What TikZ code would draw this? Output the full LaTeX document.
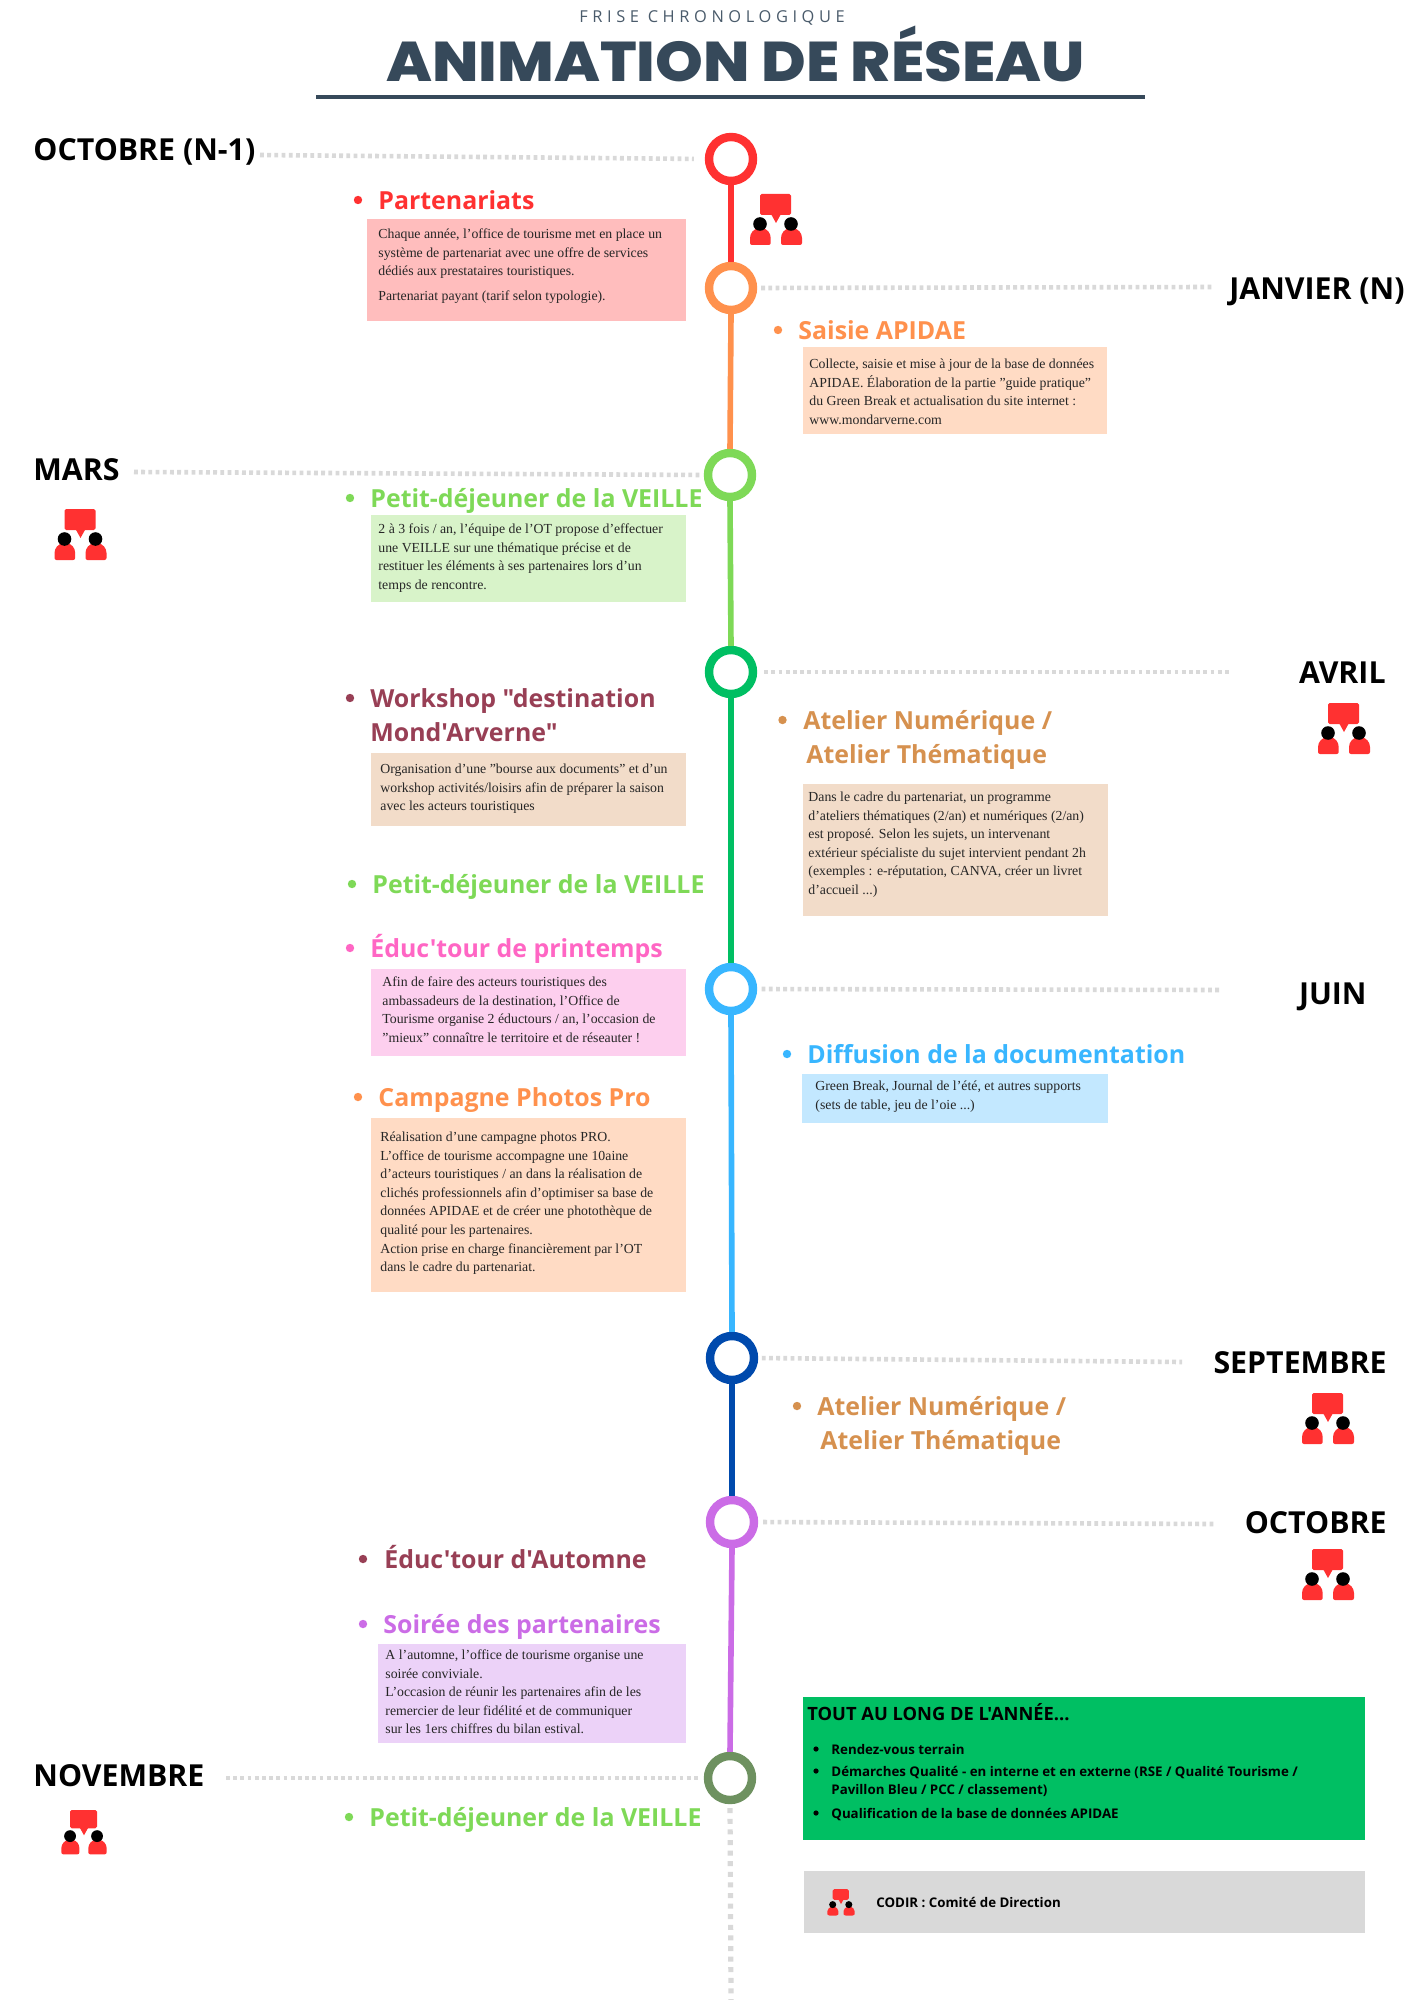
\documentclass[tikz,border=0pt]{standalone}
\usepackage{fontspec}
\setmainfont{Liberation Serif}
\newfontfamily\osans{Open Sans}
\newfontfamily\ossp[LetterSpace=28]{Open Sans}
\newfontfamily\popp[FakeStretch=1.085]{Poppins ExtraBold}
\definecolor{slate}{HTML}{36495A}
\definecolor{cred}{HTML}{FF3131}
\definecolor{corange}{HTML}{FF914D}
\definecolor{cgreen}{HTML}{7ED957}
\definecolor{cdgreen}{HTML}{00BF63}
\definecolor{cblue}{HTML}{38B6FF}
\definecolor{cnavy}{HTML}{004AAD}
\definecolor{cpurple}{HTML}{CB6CE6}
\definecolor{cmoss}{HTML}{6E9160}
\definecolor{cpink}{HTML}{FF66C4}
\definecolor{cwine}{HTML}{983F55}
\definecolor{cochre}{HTML}{D6914F}
\definecolor{bred}{HTML}{FFBDBD}
\definecolor{borange}{HTML}{FFDBC4}
\definecolor{bgreen}{HTML}{D8F3C9}
\definecolor{btan}{HTML}{F2DCC9}
\definecolor{bpink}{HTML}{FDCFEE}
\definecolor{bblue}{HTML}{C3E8FF}
\definecolor{bpurple}{HTML}{ECD2F8}
\definecolor{bgray}{HTML}{D9D9D9}
\tikzset{
  ring/.style={circle,draw=#1,line width=4.2pt,inner sep=0pt,minimum size=22pt,fill=white},
  seg/.style={draw=#1,line width=2.8pt},
  dotline/.style={draw=bgray,line width=2.3pt,dash pattern=on 1.9pt off 1.7pt},
  dotvert/.style={draw=bgray,line width=2.6pt,dash pattern=on 2.5pt off 2.8pt},
  monthlabel/.style={inner sep=0pt,font=\osans\bfseries\fontsize{15.15}{18}\selectfont,text=black},
  headlabel/.style={anchor=north west,inner sep=0pt,align=left,text=#1,font=\osans\bfseries\fontsize{12.45}{17.2}\selectfont},
  bodylabel/.style={anchor=north west,inner sep=0pt,align=left,text=black!85,font=\fontsize{6.9}{9.3}\selectfont},
  dotmark/.style={circle,fill=#1,inner sep=0pt,minimum size=4.2pt},
  panel/.style={anchor=north west,inner sep=0pt,outer sep=0pt,fill=#1},
  listlabel/.style={anchor=north west,inner sep=0pt,align=left,text=black,font=\osans\bfseries\fontsize{6.65}{9}\selectfont},
}
\newcommand\meetingicon[3]{%
  \begin{scope}[shift={(#1,#2)},scale=#3]
    \fill[cred,rounded corners=0.8pt] (-16,0) rectangle (15,21);
    \fill[cred] (-5,20) -- (0,29) -- (5,20) -- cycle;
    \fill[cred,rounded corners=1pt] (-26,51) -- (-26,46) .. controls (-26,39) and (-22,34.5) .. (-15.5,34.5) .. controls (-9,34.5) and (-5.3,39) .. (-5.3,46) -- (-5.3,51) -- cycle;
    \fill[cred,rounded corners=1pt] (5,51) -- (5,46) .. controls (5,39) and (9,34.5) .. (15.5,34.5) .. controls (22,34.5) and (26,39) .. (26,46) -- (26,51) -- cycle;
    \fill[black] (-16,30) circle[radius=6.8];
    \fill[black] (15,30) circle[radius=6.8];
  \end{scope}}
\newcommand\panelbox[6]{\node[panel=#2,minimum width={(#5-#3)*0.5pt},minimum height={(#6-#4)*0.5pt}] (#1) at (#3,#4) {};}
\newcommand\headline[6]{%
  \node[dotmark=#5] (#1d) at (#2,#4) {};
  \node[headlabel=#5] (#1) at (#3,#4-15) {\strut #6};}
\newcommand\bodytext[4]{\node[bodylabel] (#1) at (#2,#3-9) {\strut #4};}
\begin{document}
\begin{tikzpicture}[x=0.5pt,y=-0.5pt]
\path[use as bounding box,fill=white] (0,0) rectangle (1414,2000);
% title
\node[inner sep=0pt,text=slate!90,font=\ossp\fontsize{8.2}{10}\selectfont] (subtitle) at (712,18) {FRISE CHRONOLOGIQUE};
\node[inner sep=0pt,anchor=base,text=slate,font=\popp\fontsize{28}{32}\selectfont] (title) at (735.5,82) {ANIMATION DE RÉSEAU};
\coordinate (ruleA) at (316,97);
\coordinate (ruleB) at (1145,97);
\draw[slate,line width=2pt] (ruleA) -- (ruleB);
% rings
\node[ring=cred] (c1) at (731,159) {};
\node[ring=corange] (c2) at (731,288) {};
\node[ring=cgreen] (c3) at (730,475) {};
\node[ring=cdgreen] (c4) at (731,672) {};
\node[ring=cblue] (c5) at (731,989) {};
\node[ring=cnavy] (c6) at (732,1358) {};
\node[ring=cpurple] (c7) at (732,1522) {};
\node[ring=cmoss] (c8) at (730,1778) {};
% segments
\draw[seg=cred] (c1.south) -- (c2.north);
\draw[seg=corange] (c2.south) -- (c3.north);
\draw[seg=cgreen] (c3.south) -- (c4.north);
\draw[seg=cdgreen] (c4.south) -- (c5.north);
\draw[seg=cblue] (c5.south) -- (c6.north);
\draw[seg=cnavy] (c6.south) -- (c7.north);
\draw[seg=cpurple] (c7.south) -- (c8.north);
\coordinate (tail) at (731,2000);
\draw[dotvert,shorten <=2pt] (c8.south) -- (tail);
% months
\node[monthlabel,anchor=base west] (m1) at (33,161) {OCTOBRE (N-1)};
\node[monthlabel,anchor=base east] (m2) at (1405,299.5) {JANVIER (N)};
\node[monthlabel,anchor=base west] (m3) at (33,480.5) {MARS};
\node[monthlabel,anchor=base east] (m4) at (1386,683) {AVRIL};
\node[monthlabel,anchor=base east] (m5) at (1367,1004) {JUIN};
\node[monthlabel,anchor=base east] (m6) at (1387,1373) {SEPTEMBRE};
\node[monthlabel,anchor=base east] (m7) at (1387,1533) {OCTOBRE};
\node[monthlabel,anchor=base west] (m8) at (33,1786) {NOVEMBRE};
% dotted leaders
\coordinate (a1) at (260,155);
\coordinate (a2) at (1213,287);
\coordinate (a3) at (134,472);
\coordinate (a4) at (1231,672);
\coordinate (a5) at (1221,990);
\coordinate (a6) at (1182,1362);
\coordinate (a7) at (1214,1524);
\coordinate (a8) at (226,1778);
\draw[dotline,shorten >=5.5pt] (a1) -- (c1.west);
\draw[dotline,shorten <=2pt] (c2.east) -- (a2);
\draw[dotline,shorten >=2pt] (a3) -- (c3.west);
\draw[dotline,shorten <=3.5pt] (c4.east) -- (a4);
\draw[dotline,shorten <=2.2pt] (c5.east) -- (a5);
\draw[dotline,shorten <=1.8pt] (c6.east) -- (a6);
\draw[dotline,shorten <=2.5pt] (c7.east) -- (a7);
\draw[dotline,shorten >=2.5pt] (a8) -- (c8.west);
% panels
\panelbox{p1}{bred}{367}{219}{686}{321}
\panelbox{p2}{borange}{802.5}{347}{1107}{434}
\panelbox{p3}{bgreen}{371}{515}{686}{602}
\panelbox{p4}{btan}{371}{753}{686}{826}
\panelbox{p5}{btan}{803}{784}{1108}{916}
\panelbox{p6}{bpink}{371}{969}{686}{1056}
\panelbox{p7}{borange}{371}{1118}{686}{1292}
\panelbox{p8}{bblue}{802}{1074}{1108}{1123}
\panelbox{p9}{bpurple}{378}{1644}{686}{1743}
\panelbox{p10}{cdgreen}{803}{1697}{1365}{1840}
\panelbox{p11}{bgray}{804}{1871}{1365}{1933}
% headings
\headline{h1}{358}{378}{200}{cred}{Partenariats}
\headline{h2}{778}{798}{330}{corange}{Saisie APIDAE}
\headline{h3}{350}{370}{498}{cgreen}{Petit-déjeuner de la VEILLE}
\headline{h4}{350}{370}{698}{cwine}{Workshop "destination\\Mond'Arverne"}
\headline{h5}{782.5}{803}{720}{cochre}{Atelier Numérique /\\\hspace*{1.5pt}Atelier Thématique}
\headline{h6}{352}{372}{884}{cgreen}{Petit-déjeuner de la VEILLE}
\headline{h7}{350}{370}{948}{cpink}{Éduc'tour de printemps}
\headline{h8}{358}{378}{1097}{corange}{Campagne Photos Pro}
\headline{h9}{787}{807}{1054}{cblue}{Diffusion de la documentation}
\headline{h10}{797}{817}{1406}{cochre}{Atelier Numérique /\\\hspace*{1.5pt}Atelier Thématique}
\headline{h11}{363}{384}{1559}{cwine}{Éduc'tour d'Automne}
\headline{h12}{363}{383}{1624}{cpurple}{Soirée des partenaires}
\headline{h13}{349}{369}{1817}{cgreen}{Petit-déjeuner de la VEILLE}
% body texts
\bodytext{t1}{378}{234}{Chaque année, l'office de tourisme met en place un\\système de partenariat avec une offre de services\\dédiés aux prestataires touristiques.\\[3pt]Partenariat payant (tarif selon typologie).}
\bodytext{t2}{809}{364}{Collecte, saisie et mise à jour de la base de données\\APIDAE. Élaboration de la partie "guide pratique"\\du Green Break et actualisation du site internet :\\www.mondarverne.com}
\bodytext{t3}{378}{529}{2 à 3 fois / an, l'équipe de l'OT propose d'effectuer\\une VEILLE sur une thématique précise et de\\restituer les éléments à ses partenaires lors d'un\\temps de rencontre.}
\bodytext{t4}{380}{769}{Organisation d'une "bourse aux documents" et d'un\\workshop activités/loisirs afin de préparer la saison\\avec les acteurs touristiques}
\bodytext{t5}{808}{797}{Dans le cadre du partenariat, un programme\\d'ateliers thématiques (2/an) et numériques (2/an)\\est proposé. Selon les sujets,  un intervenant\\extérieur spécialiste du sujet intervient pendant 2h\\(exemples : e-réputation, CANVA, créer un livret\\d'accueil ...)}
\bodytext{t6}{382}{982}{Afin de faire des acteurs touristiques des\\ambassadeurs de la destination, l'Office de\\Tourisme organise 2 éductours / an, l'occasion de\\"mieux" connaître le territoire et de réseauter !}
\bodytext{t7}{380}{1137}{Réalisation d'une campagne photos PRO.\\L'office de tourisme accompagne une 10aine\\d'acteurs touristiques / an dans la réalisation de\\clichés professionnels afin d'optimiser sa base de\\données APIDAE et de créer une photothèque de\\qualité pour les partenaires.\\Action prise en charge financièrement par l'OT\\dans le cadre du partenariat.}
\bodytext{t8}{815}{1086}{Green Break, Journal de l'été, et autres supports\\(sets de table, jeu de l'oie ...)}
\bodytext{t9}{385}{1655}{A l'automne, l'office de tourisme organise une\\soirée conviviale.\\L'occasion de réunir les partenaires afin de les\\remercier  de leur fidélité et de communiquer\\sur les 1ers chiffres du bilan estival.}
% green panel
\node[anchor=base west,inner sep=0pt,text=black,font=\osans\bfseries\fontsize{9.15}{12}\selectfont] (yeartitle) at (807,1720) {TOUT AU LONG DE L'ANNÉE...};
\node[dotmark=black,minimum size=2.6pt] (l1d) at (816,1749) {};
\node[listlabel] (l1) at (831,1749-8) {\strut Rendez-vous terrain};
\node[dotmark=black,minimum size=2.6pt] (l2d) at (816,1771) {};
\node[listlabel] (l2) at (831,1771-8) {\strut Démarches Qualité - en interne et en externe (RSE / Qualité Tourisme /\\Pavillon Bleu / PCC / classement)};
\node[dotmark=black,minimum size=2.6pt] (l3d) at (816,1813) {};
\node[listlabel] (l3) at (831,1813-8) {\strut Qualification de la base de données APIDAE};
% legend
\node[listlabel] (codir) at (876,1902-8) {\strut CODIR : Comité de Direction};
% icons
\meetingicon{776}{194}{1}
\meetingicon{80.5}{509}{1}
\meetingicon{1344}{703}{1}
\meetingicon{1328}{1393}{1}
\meetingicon{1328}{1549}{1}
\meetingicon{84}{1810}{0.87}
\meetingicon{841}{1889}{0.52}
\end{tikzpicture}
\end{document}
